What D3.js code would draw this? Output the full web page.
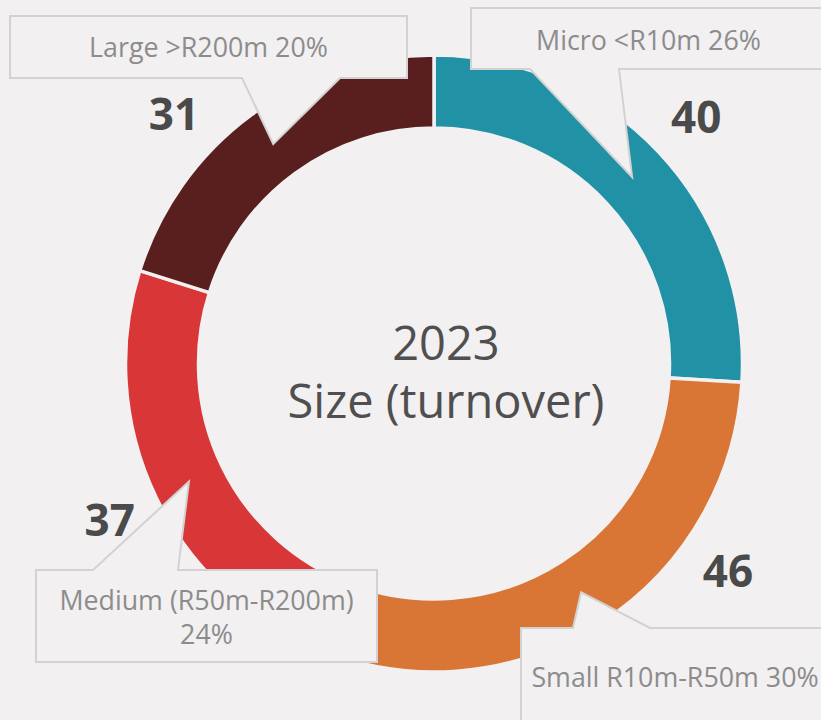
<!DOCTYPE html>
<html>
<head>
<meta charset="utf-8">
<script src="https://cdn.jsdelivr.net/npm/d3@7"></script>
<style>
  html, body { margin: 0; padding: 0; background: #f2f0f1; }
  svg { display: block; }
</style>
</head>
<body>
<div id="chart"></div>
<script>
// data
const categories = ["Micro <R10m", "Small R10m-R50m", "Medium (R50m-R200m)", "Large >R200m"];
const values = [40, 46, 37, 31];
const shares = ["26%", "30%", "24%", "20%"];
const colours = ["#2191a6", "#d97636", "#d93737", "#591f1f"];
const centreLines = ["2023", "Size (turnover)"];

const width = 821, height = 720;
const cx = 434, cy = 363.5;
const outerR = 308.5, innerR = 235.5;
const bg = "#f2f0f1";

// callout boxes: x, y, w, h, which side the pointer leaves from, pointer base x0/x1, text lines
const callouts = [
  { x: 471, y: 8, w: 355, h: 61, side: "bottom", b0: 530, b1: 619, lines: [categories[0] + " " + shares[0]], ty: 50 },
  { x: 521, y: 628, w: 308, h: 100, side: "top", b0: 573, b1: 650, lines: [categories[1] + " " + shares[1]], ty: 687 },
  { x: 36, y: 570, w: 341, h: 92, side: "top", b0: 93, b1: 178, lines: [categories[2], shares[2]], ty: 610 },
  { x: 10, y: 16, w: 397, h: 62, side: "bottom", b0: 242, b1: 340, lines: [categories[3] + " " + shares[3]], ty: 57 }
];
// value label nudges (degrees) and radius
const labelShift = [0, -22, 0, -10];
const labelR = 360;

const svg = d3.select("#chart").append("svg")
  .attr("width", width)
  .attr("height", height)
  .style("background-color", bg);

const pie = d3.pie().sort(null).value(d => d);
const arcs = pie(values);

const arc = d3.arc().innerRadius(innerR).outerRadius(outerR);

const g = svg.append("g").attr("transform", `translate(${cx},${cy})`);

g.selectAll("path.slice")
  .data(arcs)
  .enter()
    .append("path")
      .attr("class", "slice")
      .attr("d", arc)
      .attr("fill", (d, i) => colours[i])
      .attr("stroke", bg)
      .attr("stroke-width", 3.5);

// centre title
svg.append("text")
  .attr("x", 446)
  .attr("y", 360)
  .attr("text-anchor", "middle")
  .style("font-family", "'Open Sans', sans-serif")
  .style("font-size", "47px")
  .style("fill", "#4f4f4f")
  .selectAll("tspan")
  .data(centreLines)
  .enter()
    .append("tspan")
      .attr("x", 446)
      .attr("dy", (d, i) => i ? 58 : 0)
      .text(d => d);

// value labels
arcs.forEach((d, i) => {
  let a = (d.startAngle + d.endAngle) / 2 + labelShift[i] * Math.PI / 180;
  svg.append("text")
    .attr("x", cx + labelR * Math.sin(a))
    .attr("y", cy - labelR * Math.cos(a))
    .attr("dy", "0.36em")
    .attr("text-anchor", "middle")
    .style("font-family", "'Open Sans', sans-serif")
    .style("font-weight", "bold")
    .style("font-size", "44px")
    .style("fill", "#4a4a4a")
    .text(values[i]);
});

// callouts, pointer tip at each slice centroid
callouts.forEach((c, i) => {
  let tip = arc.centroid(arcs[i]);
  let tx = cx + tip[0], ty = cy + tip[1];
  let x0 = c.x, x1 = c.x + c.w, y0 = c.y, y1 = c.y + c.h;
  let p = d3.path();
  if (c.side === "bottom") {
    p.moveTo(x0, y0);
    p.lineTo(x1, y0);
    p.lineTo(x1, y1);
    p.lineTo(c.b1, y1);
    p.lineTo(tx, ty);
    p.lineTo(c.b0, y1);
    p.lineTo(x0, y1);
  } else {
    p.moveTo(x0, y0);
    p.lineTo(c.b0, y0);
    p.lineTo(tx, ty);
    p.lineTo(c.b1, y0);
    p.lineTo(x1, y0);
    p.lineTo(x1, y1);
    p.lineTo(x0, y1);
  }
  p.closePath();
  svg.append("path")
    .attr("d", p.toString())
    .attr("fill", bg)
    .attr("stroke", "#d3d2d2")
    .attr("stroke-width", 2)
    .attr("stroke-linejoin", "miter");

  svg.append("text")
    .attr("text-anchor", "middle")
    .style("font-family", "'Open Sans', sans-serif")
    .style("font-size", "26.8px")
    .style("fill", "#8c8c8c")
    .selectAll("tspan")
    .data(c.lines)
    .enter()
      .append("tspan")
        .attr("x", c.x + c.w / 2)
        .attr("y", (d, j) => c.ty + j * 34)
        .text(d => d);
});
</script>
</body>
</html>
